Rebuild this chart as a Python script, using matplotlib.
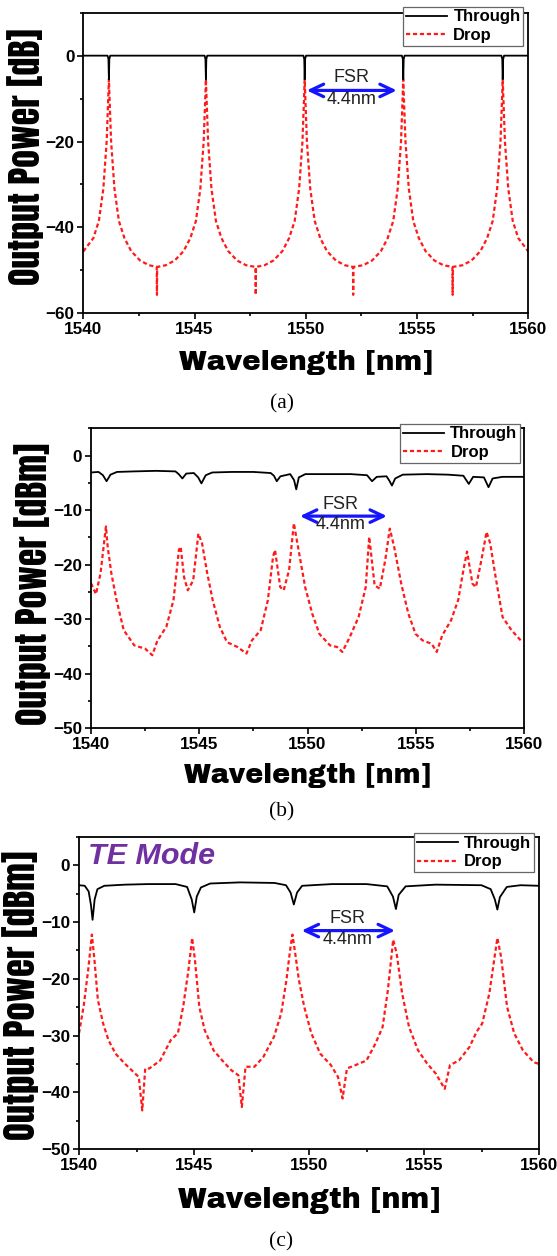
import matplotlib
matplotlib.use("Agg")
import matplotlib.pyplot as plt
from matplotlib.ticker import MultipleLocator

plt.rcParams['lines.scale_dashes'] = False

# ---------------- data ----------------
# (a) simulated
through_a_x = [1540.00, 1541.09, 1541.13, 1541.15, 1541.17, 1541.21,
               1545.45, 1545.49, 1545.51, 1545.53, 1545.57,
               1549.89, 1549.93, 1549.95, 1549.97, 1550.01,
               1554.32, 1554.36, 1554.38, 1554.40, 1554.44,
               1558.79, 1558.83, 1558.85, 1558.87, 1558.91, 1560.00]
through_a_y = [0.0, 0.0, -0.8, -5.5, -0.8, 0.0,
               0.0, -0.8, -5.5, -0.8, 0.0,
               0.0, -0.8, -5.5, -0.8, 0.0,
               0.0, -0.8, -5.5, -0.8, 0.0,
               0.0, -0.8, -5.5, -0.8, 0.0, 0.0]

drop_a_x = [1540.00, 1540.45, 1540.70, 1540.90, 1541.05, 1541.12, 1541.15,
            1541.18, 1541.25, 1541.40, 1541.60, 1541.85, 1542.15, 1542.55, 1542.95, 1543.30, 1543.31, 1543.32,
            1543.71, 1544.11, 1544.51, 1544.81, 1545.06, 1545.26, 1545.41, 1545.48, 1545.51,
            1545.54, 1545.61, 1545.76, 1545.96, 1546.21, 1546.51, 1546.91, 1547.31, 1547.74, 1547.75, 1547.76,
            1548.15, 1548.55, 1548.95, 1549.25, 1549.50, 1549.70, 1549.85, 1549.92, 1549.95,
            1549.98, 1550.05, 1550.20, 1550.40, 1550.65, 1550.95, 1551.35, 1551.75, 1552.12, 1552.13, 1552.14,
            1552.58, 1552.98, 1553.38, 1553.68, 1553.93, 1554.13, 1554.28, 1554.35, 1554.38,
            1554.41, 1554.48, 1554.63, 1554.83, 1555.08, 1555.38, 1555.78, 1556.18, 1556.59, 1556.60, 1556.61,
            1557.05, 1557.45, 1557.85, 1558.15, 1558.40, 1558.60, 1558.75, 1558.82, 1558.85,
            1558.88, 1558.95, 1559.10, 1559.30, 1559.55, 1560.00]
drop_a_y = [-45.6, -42.5, -38.5, -31.0, -20.0, -10.0, -5.5,
            -10.0, -20.0, -31.0, -38.5, -42.5, -45.5, -47.7, -48.8, -49.2, -55.7, -49.2,
            -48.8, -47.7, -45.5, -42.5, -38.5, -31.0, -20.0, -10.0, -5.5,
            -10.0, -20.0, -31.0, -38.5, -42.5, -45.5, -47.7, -48.8, -49.2, -55.7, -49.2,
            -48.8, -47.7, -45.5, -42.5, -38.5, -31.0, -20.0, -10.0, -5.5,
            -10.0, -20.0, -31.0, -38.5, -42.5, -45.5, -47.7, -48.8, -49.2, -55.7, -49.2,
            -48.8, -47.7, -45.5, -42.5, -38.5, -31.0, -20.0, -10.0, -5.5,
            -10.0, -20.0, -31.0, -38.5, -42.5, -45.5, -47.7, -48.8, -49.2, -55.7, -49.2,
            -48.8, -47.7, -45.5, -42.5, -38.5, -31.0, -20.0, -10.0, -5.5,
            -10.0, -20.0, -31.0, -38.5, -42.5, -45.6]

# (b) measured
through_b_x = [1540.00, 1540.35, 1540.55, 1540.72, 1540.90, 1541.20, 1542.00, 1543.00, 1543.90,
               1544.05, 1544.22, 1544.40, 1544.75, 1544.95, 1545.10, 1545.30, 1545.60, 1546.50,
               1547.50, 1548.30, 1548.45, 1548.58, 1548.75, 1549.20, 1549.38, 1549.48, 1549.60,
               1549.90, 1551.00, 1552.00, 1552.75, 1552.98, 1553.20, 1553.65, 1553.78, 1553.90,
               1554.05, 1554.40, 1555.50, 1556.50, 1557.20, 1557.45, 1557.65, 1558.15, 1558.36,
               1558.55, 1559.00, 1560.00]
through_b_y = [-3.1, -3.0, -3.6, -4.7, -3.5, -3.0, -2.9, -2.8, -2.9,
               -3.4, -4.2, -3.3, -3.2, -4.0, -5.1, -3.6, -3.1, -3.0,
               -3.0, -3.2, -3.7, -4.7, -3.8, -3.4, -4.5, -6.2, -4.0,
               -3.4, -3.4, -3.4, -3.6, -4.7, -3.9, -3.8, -4.6, -5.5,
               -4.2, -3.5, -3.4, -3.5, -3.7, -5.2, -3.9, -4.0, -5.8,
               -4.2, -3.9, -3.9]

drop_b_x = [1540.00, 1540.23, 1540.44, 1540.60, 1540.69, 1540.77, 1540.94, 1541.18, 1541.51, 1542.00,
            1542.50, 1542.83, 1543.07, 1543.48, 1543.81, 1544.06, 1544.14, 1544.30, 1544.47, 1544.72,
            1544.96, 1545.13, 1545.37, 1545.62, 1545.95, 1546.28, 1546.77, 1547.18, 1547.43, 1547.84,
            1548.17, 1548.41, 1548.50, 1548.74, 1548.90, 1549.15, 1549.37, 1549.56, 1549.89, 1550.22,
            1550.55, 1551.04, 1551.37, 1551.61, 1551.95, 1552.36, 1552.69, 1552.85, 1553.10, 1553.34,
            1553.59, 1553.80, 1554.00, 1554.33, 1554.66, 1554.99, 1555.32, 1555.73, 1555.97, 1556.22,
            1556.63, 1556.96, 1557.20, 1557.37, 1557.62, 1557.78, 1558.03, 1558.27, 1558.44, 1558.69,
            1559.01, 1559.42, 1559.92]
drop_b_y = [-23.4, -25.4, -21.6, -16.1, -13.0, -16.7, -21.6, -26.5, -32.0, -34.8,
            -35.4, -36.6, -33.9, -31.4, -26.5, -17.3, -16.7, -22.3, -24.7, -22.9,
            -14.3, -16.1, -21.6, -26.5, -31.4, -34.2, -35.1, -36.3, -33.9, -32.0,
            -26.5, -18.5, -17.3, -24.1, -24.7, -21.0, -12.4, -16.7, -24.1, -29.0,
            -32.7, -34.8, -35.1, -36.0, -33.3, -29.6, -24.1, -14.9, -23.8, -24.4,
            -19.2, -13.4, -16.7, -23.5, -29.0, -32.7, -33.9, -34.5, -36.0, -33.0,
            -30.2, -26.5, -21.0, -17.6, -23.5, -24.1, -19.2, -14.0, -16.1, -22.3,
            -29.6, -32.0, -34.2]

# (c) measured, TE mode
through_c_x = [1540.00, 1540.25, 1540.42, 1540.52, 1540.59, 1540.68, 1540.80, 1541.10, 1542.00,
               1543.00, 1544.20, 1544.70, 1544.90, 1545.01, 1545.12, 1545.30, 1545.70, 1547.00,
               1548.50, 1549.00, 1549.20, 1549.34, 1549.48, 1549.70, 1551.00, 1552.50, 1553.40,
               1553.65, 1553.78, 1553.90, 1554.20, 1555.50, 1557.50, 1557.90, 1558.08, 1558.19,
               1558.30, 1558.60, 1559.20, 1560.00]
through_c_y = [-3.5, -3.6, -4.6, -7.0, -9.6, -6.0, -4.2, -3.6, -3.4,
               -3.3, -3.3, -3.8, -6.0, -8.3, -5.5, -3.9, -3.2, -3.0,
               -3.1, -3.5, -4.8, -6.9, -4.8, -3.6, -3.3, -3.3, -3.7,
               -5.5, -7.7, -5.2, -3.7, -3.4, -3.5, -4.2, -6.0, -7.8,
               -5.6, -3.8, -3.5, -3.6]

drop_c_x = [1540.00, 1540.20, 1540.40, 1540.56, 1540.67, 1540.82, 1541.05, 1541.28, 1541.59, 1541.98,
            1542.44, 1542.60, 1542.75, 1542.88, 1543.06, 1543.53, 1543.99, 1544.30, 1544.53, 1544.76,
            1544.92, 1545.04, 1545.23, 1545.46, 1545.85, 1546.23, 1546.62, 1546.93, 1547.08, 1547.24,
            1547.63, 1548.01, 1548.48, 1548.79, 1549.02, 1549.17, 1549.28, 1549.40, 1549.56, 1549.79,
            1550.10, 1550.49, 1550.95, 1551.26, 1551.46, 1551.65, 1552.03, 1552.50, 1552.89, 1553.20,
            1553.43, 1553.66, 1553.81, 1554.05, 1554.35, 1554.74, 1555.13, 1555.51, 1555.90, 1556.13,
            1556.52, 1556.98, 1557.29, 1557.53, 1557.84, 1558.07, 1558.19, 1558.35, 1558.61, 1558.92,
            1559.30, 1559.77, 1560.00]
drop_c_y = [-29.6, -24.9, -18.4, -12.2, -16.6, -23.7, -27.9, -30.8, -33.2, -34.9,
            -36.7, -37.3, -43.2, -35.8, -35.8, -34.4, -30.8, -29.6, -24.9, -18.4,
            -12.8, -16.6, -24.9, -29.0, -32.6, -34.4, -36.1, -37.0, -42.6, -35.5,
            -35.5, -33.8, -30.2, -26.1, -20.2, -15.2, -12.2, -15.5, -20.2, -24.9,
            -29.6, -33.2, -35.2, -37.3, -41.1, -35.8, -35.2, -34.4, -31.4, -28.5,
            -22.0, -13.1, -15.5, -22.6, -28.5, -32.6, -34.9, -36.7, -39.4, -35.2,
            -34.4, -32.0, -29.3, -27.9, -22.6, -16.1, -12.8, -16.1, -24.9, -29.6,
            -32.6, -34.7, -35.0]

x_ticks = [1540, 1545, 1550, 1555, 1560]
x_label = "Wavelength [nm]"
y_labels = ["Output Power [dB]", "Output Power [dBm]", "Output Power [dBm]"]
captions = ["(a)", "(b)", "(c)"]
series_names = ["Through", "Drop"]
fsr_text = ["FSR", "4.4nm"]

# ---------------- layout (pixels) ----------------
W, H = 557, 1256
fig = plt.figure(figsize=(W / 100, H / 100), dpi=100)

def add_ax(l, r, t, b):
    return fig.add_axes([l / W, 1 - b / H, (r - l) / W, (b - t) / H])

panels = [
    dict(box=(83.3, 528.3, 12.7, 313.3), ylim=(-60, 10), ymaj=20, ymin=10,
         tx=through_a_x, ty=through_a_y, dx=drop_a_x, dy=drop_a_y,
         leg=(523, 7.0), arrow=(1550.04, 1554.09, -8.1), fsr=(1552.07, -5.2, -10.2),
         ylab=(30, 156.5, 257), xlab=(362.5, 254), cap=(282, 404)),
    dict(box=(91, 524, 428.3, 728.3), ylim=(-50, 5), ymaj=10, ymin=5,
         tx=through_b_x, ty=through_b_y, dx=drop_b_x, dy=drop_b_y,
         leg=(520, 424), arrow=(1549.65, 1553.67, -11.1), fsr=(1551.54, -8.9, -12.7),
         ylab=(35, 584, 282), xlab=(776, 247), cap=(282, 812)),
    dict(box=(79, 539, 837, 1149), ylim=(-50, 5), ymaj=10, ymin=5,
         tx=through_c_x, ty=through_c_y, dx=drop_c_x, dy=drop_c_y,
         leg=(533.8, 833.3), arrow=(1549.68, 1553.74, -11.5), fsr=(1551.69, -9.3, -13.0),
         ylab=(21, 995, 294), xlab=(1201, 263), cap=(281, 1242)),
]

HEAVY = "Archivo Black"
YFONT = ["Anton", "Archivo Black"]
TICKF = ["Liberation Sans", "DejaVu Sans"]
fit_items = []
ylabel_items = []

for i, p in enumerate(panels):
    l, r, t, b = p["box"]
    ax = add_ax(l, r, t, b)
    ax.plot(p["dx"], p["dy"], color="#ff1a1a", lw=1.6, dashes=(3.0, 2.0), label=series_names[1], zorder=2)
    ax.plot(p["tx"], p["ty"], color="black", lw=1.3, label=series_names[0], zorder=3)
    ax.set_xlim(1540, 1560)
    ax.set_ylim(*p["ylim"])
    ax.set_xticks(x_ticks)
    ax.xaxis.set_minor_locator(MultipleLocator(2.5))
    ax.yaxis.set_major_locator(MultipleLocator(p["ymaj"]))
    ax.yaxis.set_minor_locator(MultipleLocator(p["ymin"]))
    ax.tick_params(which="both", direction="out", top=False, right=False, width=1.2, colors="black")
    ax.tick_params(which="major", length=4.2, pad=2.2)
    ax.tick_params(which="minor", length=2.3)
    for s in ax.spines.values():
        s.set_linewidth(1.3)
    for lab in ax.get_xticklabels() + ax.get_yticklabels():
        lab.set_fontfamily(TICKF)
        lab.set_fontweight("bold")
        lab.set_fontsize(12.3)

    # legend
    handles, labels = ax.get_legend_handles_labels()
    order = [1, 0]
    lx, ly = p["leg"]
    leg = ax.legend([handles[k] for k in order], [labels[k] for k in order],
                    loc="upper right", bbox_to_anchor=(lx / W, 1 - ly / H),
                    bbox_transform=fig.transFigure, borderaxespad=0,
                    prop=dict(family=TICKF, weight="bold", size=12),
                    handlelength=2.45, handletextpad=0.4, labelspacing=0.22,
                    borderpad=0.15, fancybox=False, framealpha=1, edgecolor="#666666")
    leg.get_frame().set_linewidth(0.9)
    leg.set_zorder(10)

    # FSR annotation
    x0, x1, ya = p["arrow"]
    ax.annotate("", xy=(x1, ya), xytext=(x0, ya),
                arrowprops=dict(arrowstyle="<->,head_length=0.95,head_width=0.45",
                                color="#1414ff", lw=2.3, shrinkA=0, shrinkB=0,
                                mutation_scale=10))
    fx, fy1, fy2 = p["fsr"]
    ax.text(fx, fy1, fsr_text[0], ha="center", va="center", fontsize=13,
            family=TICKF, color="#222222")
    ax.text(fx, fy2, fsr_text[1], ha="center", va="center", fontsize=13,
            family=TICKF, color="#222222")

    # axis labels
    ylx, yly, ylen = p["ylab"]
    yl = ax.set_ylabel(y_labels[i], family=YFONT, fontsize=24)
    yl.set_verticalalignment("center")
    ax.yaxis.set_label_coords((ylx - l) / (r - l), (b - yly) / (b - t))
    xly, xwid = p["xlab"]
    xl = ax.set_xlabel(x_label, family=HEAVY, fontsize=18)
    xl.set_verticalalignment("center")
    ax.xaxis.set_label_coords(0.5, (b - xly) / (b - t))
    fit_items.append((yl, ylen, "h"))
    fit_items.append((xl, xwid, "w"))
    ylabel_items.append((ax, yl, ylx, yly))

    if i == 2:
        te = ax.text((88 - l) / (r - l), (b - 864) / (b - t), "TE Mode",
                     transform=ax.transAxes, ha="left", va="baseline",
                     family=TICKF, weight="bold", style="italic", fontsize=20,
                     color="#7030a0")
        fit_items.append((te, 127, "w"))

    cx, cy = p["cap"]
    fig.text(cx / W, 1 - cy / H, captions[i], ha="center", va="center",
             family="Liberation Serif", fontsize=15.5)

# fit heavy label sizes to the measured extents
fig.canvas.draw()
rend = fig.canvas.get_renderer()
for txt, target, dim in fit_items:
    bb = txt.get_window_extent(rend)
    cur = bb.height if dim == "h" else bb.width
    txt.set_fontsize(txt.get_fontsize() * target / cur)

# keep the y labels clear of the tick labels and inside the figure
fig.canvas.draw()
for ax, yl, ylx, yly in ylabel_items:
    bb = yl.get_window_extent(rend)
    tick_left = min(tk.get_window_extent(rend).x0 for tk in ax.get_yticklabels() if tk.get_text())
    limit_right = tick_left - 1.5
    wdt = bb.width
    if wdt > limit_right - 1:
        yl.set_fontsize(yl.get_fontsize() * (limit_right - 1) / wdt)
        fig.canvas.draw()
        wdt = yl.get_window_extent(rend).width
    cx = min(ylx, limit_right - wdt / 2)
    cx = max(cx, 1 + wdt / 2)
    pos = ax.get_position()
    ax.yaxis.set_label_coords((cx / W - pos.x0) / pos.width,
                              (1 - yly / H - pos.y0) / pos.height)

fig.savefig("out.png", dpi=100)
